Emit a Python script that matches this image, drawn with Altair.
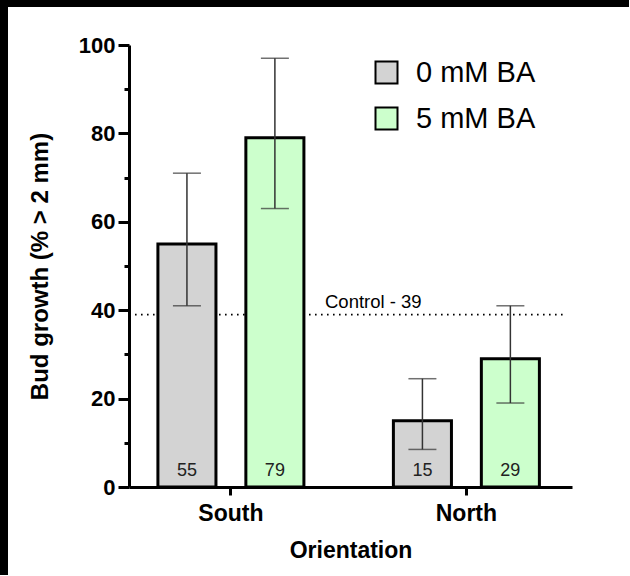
import altair as alt
import pandas as pd

orientation = ["South", "South", "North", "North"]
treatment = ["0 mM BA", "5 mM BA", "0 mM BA", "5 mM BA"]
growth = [55, 79, 15, 29]
err_low = [41, 63, 8.5, 19]
err_high = [71, 97, 24.5, 41]
control_value = 39
control_label = "Control - 39"

treatments = ["0 mM BA", "5 mM BA"]
colors = ["#d3d3d3", "#ccffcc"]
orient_order = ["South", "North"]

df = pd.DataFrame({
    "orientation": orientation,
    "treatment": treatment,
    "growth": growth,
    "low": err_low,
    "high": err_high,
    "label": [str(v) for v in growth],
})
ctrl = pd.DataFrame({"y": [control_value], "text": [control_label]})
one = pd.DataFrame({"a": [0]})

FONT = "Liberation Sans"
W, H = 443, 442
PL, PT = 129, 45

xscale = alt.Scale(paddingInner=0.38, paddingOuter=0.1306, align=0.47)
xoff = alt.XOffset("treatment:N", sort=treatments,
                   scale=alt.Scale(paddingInner=0.34, paddingOuter=0))
yscale = alt.Scale(domain=[0, 100], nice=False)

x_enc = alt.X("orientation:N", sort=orient_order, scale=xscale,
              axis=alt.Axis(title="Orientation", labelAngle=0, labelFont=FONT,
                            labelFontSize=23, labelFontWeight="bold", labelColor="black",
                            labelPadding=7, tickSize=8, tickWidth=3, tickColor="black",
                            domainWidth=3, domainColor="black", titleFont=FONT,
                            titleFontSize=23, titleFontWeight="bold", titleColor="black",
                            titlePadding=14))

y_axis = alt.Axis(title="Bud growth (% > 2 mm)",
                  values=[0, 10, 20, 30, 40, 50, 60, 70, 80, 90, 100],
                  labelExpr="datum.value % 20 == 0 ? datum.label : ''",
                  tickSize={"condition": {"test": "datum.value % 20 == 0", "value": 11}, "value": 5},
                  tickWidth=3, tickColor="black", domainWidth=3, domainColor="black",
                  labelFont=FONT, labelFontSize=22, labelFontWeight="bold", labelColor="black",
                  labelPadding=3, grid=False, titleFont=FONT, titleFontSize=24,
                  titleFontWeight="bold", titleColor="black", titlePadding=26)

base = alt.Chart(df)

ref_line = alt.Chart(ctrl).mark_rule(color="black", strokeWidth=1.6, strokeDash=[1.6, 4.4]).encode(
    y=alt.Y("y:Q", scale=yscale, axis=y_axis),
    x=alt.value(0), x2=alt.value(437),
)
ref_text = alt.Chart(ctrl).mark_text(font=FONT, fontSize=18.5, align="left", baseline="bottom",
                                     dy=-3, color="black").encode(
    y=alt.Y("y:Q", scale=yscale), x=alt.value(196), text="text:N"
)

bars = base.mark_bar(stroke="black", strokeWidth=3).encode(
    x=x_enc, xOffset=xoff,
    y=alt.Y("growth:Q", scale=yscale, axis=y_axis),
    fill=alt.Fill("treatment:N", sort=treatments,
                  scale=alt.Scale(domain=treatments, range=colors),
                  legend=alt.Legend(title=None, orient="none", legendX=243, legendY=13,
                                    symbolType="square", symbolSize=484,
                                    symbolStrokeColor="black", symbolStrokeWidth=2,
                                    labelFont=FONT, labelFontSize=29, labelColor="black",
                                    labelOffset=15, rowPadding=15, padding=0)),
)

err = base.mark_rule(color="#333333", strokeWidth=1.5).encode(
    x=x_enc, xOffset=xoff,
    y=alt.Y("low:Q", scale=yscale), y2="high:Q",
)
cap_lo = base.mark_tick(color="#333333", thickness=1.5, size=28, orient="horizontal").encode(
    x=x_enc, xOffset=xoff, y=alt.Y("low:Q", scale=yscale),
)
cap_hi = base.mark_tick(color="#333333", thickness=1.5, size=28, orient="horizontal").encode(
    x=x_enc, xOffset=xoff, y=alt.Y("high:Q", scale=yscale),
)
labels = base.mark_text(font=FONT, fontSize=18, baseline="bottom", dy=-7, color="#222222").encode(
    x=x_enc, xOffset=xoff, y=alt.datum(0, scale=yscale), text="label:N",
)

# decorative dark frame at the top and left edges, as in the reference image
border_top = alt.Chart(one).mark_rect(color="black").encode(
    x=alt.value(-PL), x2=alt.value(630 - PL - 1), y=alt.value(-PT), y2=alt.value(-PT + 7)
)
border_left = alt.Chart(one).mark_rect(color="black").encode(
    x=alt.value(-PL), x2=alt.value(-PL + 8), y=alt.value(-PT), y2=alt.value(576 - PT - 1)
)

chart = alt.layer(ref_line, ref_text, bars, err, cap_lo, cap_hi, labels,
                  border_top, border_left).properties(
    width=W, height=H,
    autosize=alt.AutoSizeParams(type="none"),
    padding={"left": PL, "top": PT, "right": 630 - PL - W, "bottom": 576 - PT - H},
    background="white",
).configure_view(stroke=None)

chart.save("out.html", embed_options={"renderer": "svg", "actions": False})
